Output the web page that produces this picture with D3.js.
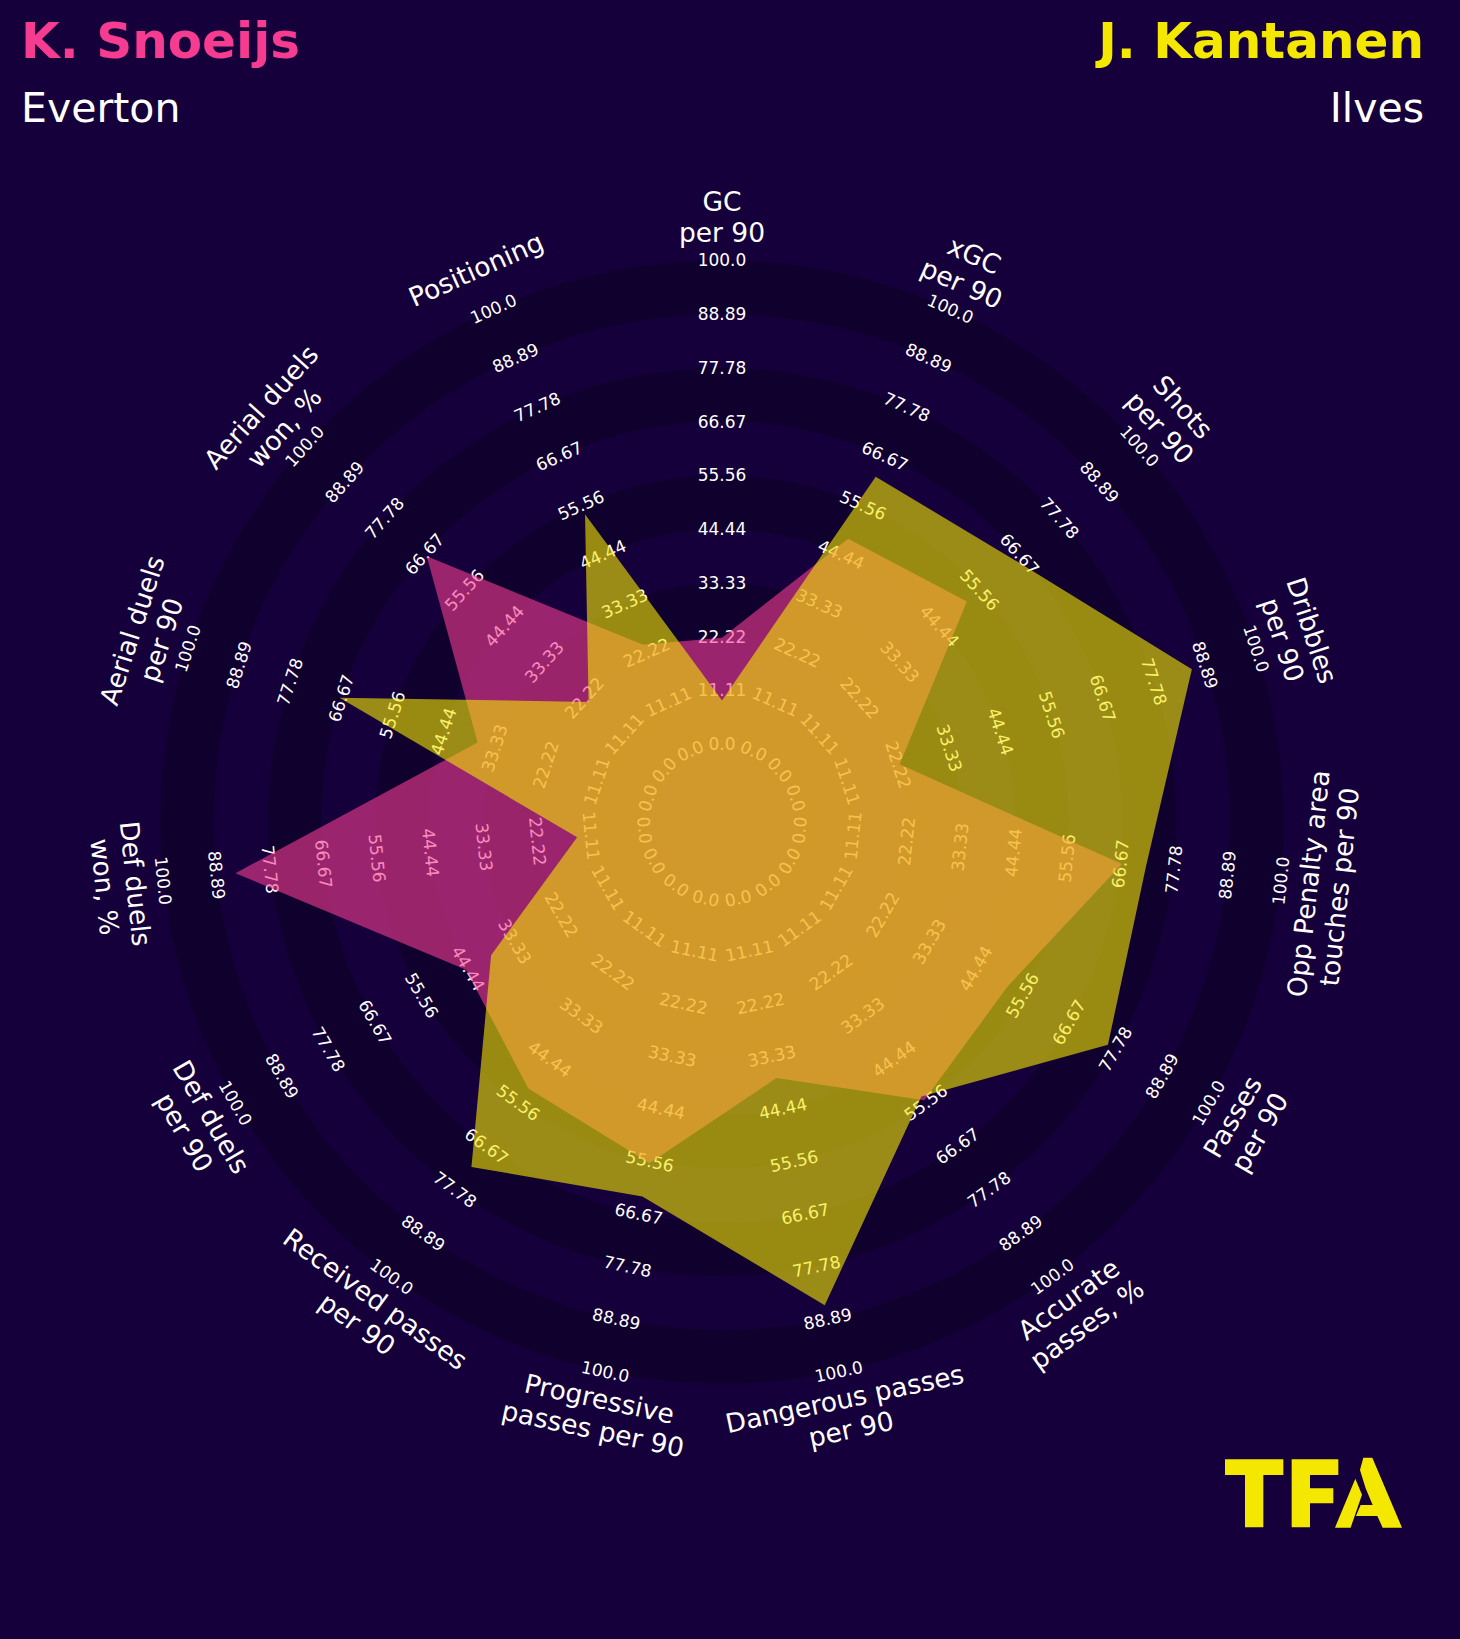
<!DOCTYPE html>
<html><head><meta charset="utf-8">
<script src="https://cdn.jsdelivr.net/npm/d3@7"></script>
<style>html,body{margin:0;padding:0;background:#16003b;} svg{display:block;}</style>
</head><body><div id="chart"></div>
<script>
// ---------- data ----------
const params = ["GC\nper 90","xGC\nper 90","Shots\nper 90","Dribbles\nper 90","Opp Penalty area\ntouches per 90","Passes\nper 90","Accurate\npasses, %","Dangerous passes\nper 90","Progressive\npasses per 90","Received passes\nper 90","Def duels\nper 90","Def duels\nwon, %","Aerial duels\nper 90","Aerial duels\nwon, %","Positioning"];
const snoeijsValues = [22, 48, 52, 22.5, 67, 52, 55, 38, 56, 52, 45, 85, 37, 66, 24];
const kantanenValues = [9, 62, 65, 86, 72, 76, 54, 86, 63, 72, 39, 14, 67, 21, 53.5];
const ringValues = [0, 11.11, 22.22, 33.33, 44.44, 55.56, 66.67, 77.78, 88.89, 100];
const ringLabels = ["0.0","11.11","22.22","33.33","44.44","55.56","66.67","77.78","88.89","100.0"];
const playerNames = ["K. Snoeijs", "J. Kantanen"];
const teamNames = ["Everton", "Ilves"];

// ---------- style ----------
const W = 1460, H = 1639;
const BG = "#16003b", RING = "#10002e";
const PINK = "#f53c91", YELLOW = "#f5e800";
const FONT = "DejaVu Sans, sans-serif";
const cx = 722, cy = 822;

const svg = d3.select("#chart").append("svg").attr("width", W).attr("height", H);
svg.append("rect").attr("width", W).attr("height", H).attr("fill", BG);

const n = params.length;
const angle = d3.scaleLinear().domain([0, n]).range([0, 2 * Math.PI]);
const r = d3.scaleLinear().domain([0, 100]).range([77.9, 561.8]);
const g = svg.append("g").attr("transform", `translate(${cx},${cy})`);

// rings
const arc = d3.arc().startAngle(0).endAngle(2 * Math.PI);
for (let i = 0; i < ringValues.length - 1; i += 2) {
  g.append("path")
    .attr("d", arc({innerRadius: r(ringValues[i]), outerRadius: r(ringValues[i + 1])}))
    .attr("fill", RING);
}

function rotFor(a) {
  let deg = a * 180 / Math.PI;
  if (deg > 90 && deg < 270) deg -= 180;
  return deg;
}

// range labels
const rl = g.append("g");
params.forEach((p, i) => {
  const a = angle(i);
  ringValues.forEach((v, j) => {
    const rr = r(v);
    rl.append("text")
      .attr("transform", `translate(${Math.sin(a) * rr},${-Math.cos(a) * rr}) rotate(${rotFor(a)})`)
      .attr("text-anchor", "middle")
      .attr("dy", "0.36em")
      .attr("font-family", FONT).attr("font-size", 17)
      .attr("fill", "#ffffff")
      .text(ringLabels[j]);
  });
});

// polygons
const radial = d3.lineRadial()
  .angle((d, i) => angle(i))
  .radius(d => r(d))
  .curve(d3.curveLinearClosed);
g.append("path").attr("d", radial(snoeijsValues)).attr("fill", PINK).attr("fill-opacity", 0.6);
g.append("path").attr("d", radial(kantanenValues)).attr("fill", YELLOW).attr("fill-opacity", 0.6);

// parameter labels
const RL = 605, FS = 26.5, LH = 31;
params.forEach((p, i) => {
  const a = angle(i);
  const lines = p.split("\n");
  const t = g.append("text")
    .attr("transform", `translate(${Math.sin(a) * RL},${-Math.cos(a) * RL}) rotate(${rotFor(a)})`)
    .attr("text-anchor", "middle")
    .attr("font-family", FONT).attr("font-size", FS)
    .attr("fill", "#ffffff");
  lines.forEach((l, k) => {
    t.append("tspan").attr("x", 0)
      .attr("y", (k - (lines.length - 1) / 2) * LH + 0.36 * FS)
      .text(l);
  });
});

// titles
svg.append("text").attr("x", 21).attr("y", 58).attr("font-family", FONT).attr("font-weight", "bold")
  .attr("font-size", 50).attr("fill", PINK).text(playerNames[0]);
svg.append("text").attr("x", 21).attr("y", 122).attr("font-family", FONT)
  .attr("font-size", 41).attr("fill", "#ffffff").text(teamNames[0]);
svg.append("text").attr("x", 1424).attr("y", 58).attr("text-anchor", "end").attr("font-family", FONT).attr("font-weight", "bold")
  .attr("font-size", 50).attr("fill", YELLOW).text(playerNames[1]);
svg.append("text").attr("x", 1424).attr("y", 122).attr("text-anchor", "end").attr("font-family", FONT)
  .attr("font-size", 41).attr("fill", "#ffffff").text(teamNames[1]);

// TFA logo (decorative)
const logo = svg.append("g").attr("transform", "translate(1200,1420) scale(0.3333)").attr("fill", YELLOW);
logo.append("path").attr("d", "M75,118 L250,118 L250,165 L190,165 L190,322 L135,322 L135,165 L75,165 Z");
logo.append("path").attr("d", "M275,118 L415,118 L415,165 L330,165 L330,205 L400,205 L400,250 L330,250 L330,322 L275,322 Z");
logo.append("path").attr("d", "M490,113 L517,113 L606,323 L548,323 L532,288 L468,288 L482,255 L518,255 L497,205 L480,150 Z");
logo.append("path").attr("d", "M466,176 L486,224 L452,323 L405,323 Z");
</script>
</body></html>
